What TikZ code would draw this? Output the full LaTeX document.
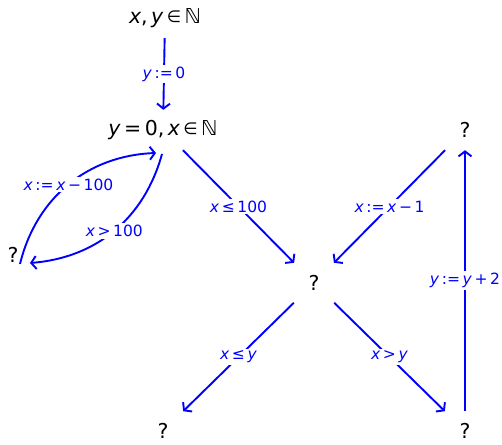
\documentclass[tikz,border=0pt]{standalone}
\usepackage{fontspec}
\usepackage{graphicx}
\setmainfont{DejaVu Sans}
\usetikzlibrary{arrows.meta}
\newcommand\vx{\textit{x}}
\newcommand\vy{\textit{y}}
\newcommand\asg{\,:=\,}
\newcommand\elem{\,\raisebox{0.06em}{\scalebox{0.8}{∈}}\,}
\tikzset{
  st/.style={rectangle, minimum width=40pt, minimum height=40pt, inner sep=0pt, font=\fontsize{20.5}{24}\selectfont},
  lbl/.style={fill=white, text=blue, inner sep=2pt, font=\fontsize{15.5}{18}\selectfont},
  arr/.style={draw=blue, line width=1.9pt, -{Straight Barb[length=5pt,width=13pt,line width=1.9pt]}}
}
\begin{document}
\begin{tikzpicture}[x=1pt,y=1pt]
\useasboundingbox (0,0) rectangle (502,444);
\node[st] (T) at (165,426) {\vx,\,\vy\elem ℕ};
\node[st] (A) at (163,314) {\vy\,=\,0,\,\vx\elem ℕ};
\node[st] (R) at (465,314) {?};
\node[st] (L) at (13,189) {?};
\node[st] (M) at (314,161) {?};
\node[st] (BL) at (163,13) {?};
\node[st] (BR) at (465,13) {?};
\coordinate (Ls) at (20,180);
\coordinate (Ae) at (156,291);
\coordinate (As) at (162,290);
\coordinate (Le) at (30,181);
\draw[arr] (T) -- node[lbl] {\vy\asg0} (A);
\draw[arr] (A) -- node[lbl] {\vx\,≤\,100} (M);
\draw[arr] (R) -- node[lbl] {\vx\asg\vx\,−\,1} (M);
\draw[arr] (M) -- node[lbl] {\vx\,≤\,\vy} (BL);
\draw[arr] (M) -- node[lbl] {\vx\,>\,\vy} (BR);
\draw[arr] (BR) -- node[lbl] {\vy\asg\vy\,+\,2} (R);
\draw[arr] (Ls) to[bend left=37] node[lbl, pos=0.5] {\vx\asg\vx\,−\,100} (Ae);
\draw[arr] (As) to[bend left=35] node[lbl, pos=0.5] {\vx\,>\,100} (Le);
\end{tikzpicture}
\end{document}
